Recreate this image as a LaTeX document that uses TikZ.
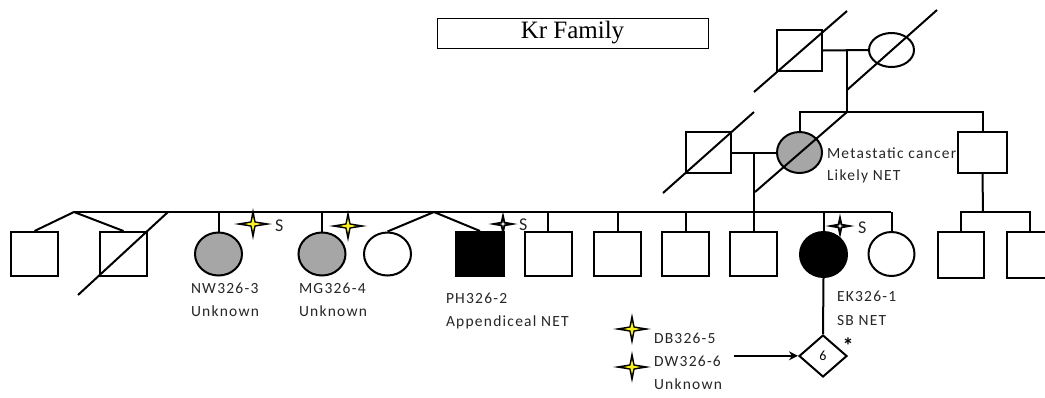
\documentclass[tikz,border=0pt]{standalone}
\usepackage{fontspec}
\newfontfamily\lblfont[LetterSpace=8]{Carlito}
\newfontfamily\titlefont{Liberation Serif}
\usetikzlibrary{shapes.geometric,arrows.meta,calc}
\definecolor{partgray}{RGB}{166,166,166}
\definecolor{staryellow}{RGB}{250,240,30}
\begin{document}
\begin{tikzpicture}[x=1pt,y=-1pt,line width=2pt,
  sq/.style={draw,rectangle,minimum width=47pt,minimum height=44pt,inner sep=0pt,fill=white},
  fem/.style={draw,ellipse,minimum width=47pt,minimum height=43pt,inner sep=0pt,fill=white},
  grayfill/.style={fill=partgray},
  blackfill/.style={fill=black},
  lbl/.style={font=\lblfont\fontsize{15.5}{18}\selectfont,text=black!85,anchor=base west,inner sep=0pt},
  slbl/.style={lbl,font=\lblfont\fontsize{18}{20}\selectfont},
  dline/.style={line width=2pt},
  ystar/.pic={
    \fill[black] (19,0) -- (2.6,2.6) -- (0,16) -- (-2.6,2.6) -- (-19,0) -- (-2.6,-2.6) -- (0,-16) -- (2.6,-2.6) -- cycle;
    \fill[staryellow] (8.5,0) -- (1.4,1.4) -- (0,7.5) -- (-1.4,1.4) -- (-8.5,0) -- (-1.4,-1.4) -- (0,-7.5) -- (1.4,-1.4) -- cycle;
  },
  bstar/.pic={
    \fill[black] (14.5,0) -- (2.2,2.2) -- (0,12.5) -- (-2.2,2.2) -- (-14.5,0) -- (-2.2,-2.2) -- (0,-12.5) -- (2.2,-2.2) -- cycle;
    \fill[white] (3,0) -- (0.6,0.6) -- (0,3) -- (-0.6,0.6) -- (-3,0) -- (-0.6,-0.6) -- (0,-3) -- (0.6,-0.6) -- cycle;
  }
]
\useasboundingbox (0,0) rectangle (1045,397);
\fill[white] (0,0) rectangle (1045,397);
\clip (0,0) rectangle (1045,397);

% title
\node[draw,line width=1pt,minimum width=271pt,minimum height=30pt,inner sep=0pt,
      font=\titlefont\fontsize{25}{28}\selectfont] (title) at (572.5,33) {Kr Family};

% coordinates for lines of descent
\coordinate (s1) at (847,112);
\coordinate (d2) at (754,212);
\coordinate (sL) at (74,212);
\coordinate (sR) at (891,212);
\coordinate (tw2) at (434,212);
\coordinate (s3) at (983,212);

% generation I
\node[sq,minimum width=45pt,minimum height=41pt] (g1m) at (799.5,50.5) {};
\node[fem,minimum width=45pt,minimum height=34pt] (g1f) at (891.5,50) {};
\draw (g1m.east) -- (g1f.west);
\draw (s1 |- g1m.east) -- (s1);

% generation II
\node[sq,minimum width=45pt,minimum height=41pt] (g2h) at (708.5,152.5) {};
\node[fem,grayfill,minimum width=45pt,minimum height=41pt] (g2f) at (799.5,152.5) {};
\node[sq,minimum width=49pt,minimum height=41pt] (g2b) at (982.5,152.5) {};
\draw (g2f.north) -- (g2f.north |- s1) -- (g2b.north |- s1) -- (g2b.north);
\draw (g2h.east) -- (g2f.west);
\draw (d2 |- g2h.east) -- (d2);
\draw (g2b.south) -- (s3);

% generation III
\node[sq] (c1) at (34.5,254) {};
\node[sq] (c2) at (123.5,254) {};
\node[fem,grayfill] (c3) at (218.5,254) {};
\node[fem,grayfill] (c4) at (322,254) {};
\node[fem] (c5) at (387.5,254) {};
\node[sq,blackfill,minimum width=48pt] (c6) at (480,254) {};
\node[sq] (c7) at (548,254) {};
\node[sq] (c8) at (617.5,254) {};
\node[sq] (c9) at (685.5,254) {};
\node[sq] (c10) at (753.5,254) {};
\node[fem,blackfill,minimum height=45pt] (c11) at (823.5,254.5) {};
\node[fem,minimum width=46pt,minimum height=44pt] (c12) at (891.5,254) {};
\node[sq,minimum width=46pt,minimum height=46pt] (r1) at (961,255) {};
\node[sq,minimum width=46pt,minimum height=46pt] (r2) at (1030,255) {};

\draw (sL) -- (sR);
\draw (c1.north) -- (sL) -- (c2.north);
\draw (c5.north) -- (tw2) -- (c6.north);
\foreach \n in {c3,c4,c7,c8,c9,c10,c11,c12}{
  \draw (\n.north) -- (\n.north |- sL);
}
\draw (r1.north) -- (r1.north |- s3) -- (r2.north |- s3) -- (r2.north);

% generation IV
\node[draw,diamond,minimum width=48pt,minimum height=42pt,inner sep=0pt,fill=white,
      font=\lblfont\fontsize{14}{14}\selectfont] (kid) at (823,356) {6};
\draw (c11.south) -- (kid.north);
\node[font=\lblfont\bfseries\fontsize{22}{22}\selectfont,inner sep=0pt,anchor=center] (ast) at (848,346) {*};

% deceased slashes
\draw[dline] ([shift={(-45.5,41.5)}]g1m.center) -- ([shift={(47.5,-39.5)}]g1m.center);
\draw[dline] ([shift={(-44.5,40)}]g1f.center) -- ([shift={(45.5,-40)}]g1f.center);
\draw[dline] ([shift={(-45.5,40.5)}]g2h.center) -- ([shift={(45.5,-40.5)}]g2h.center);
\draw[dline] ([shift={(-44.5,39.5)}]g2f.center) -- ([shift={(47.5,-40.5)}]g2f.center);
\draw[dline] ([shift={(-45.5,41)}]c2.center) -- ([shift={(44.5,-42)}]c2.center);

% stars
\pic at (253,224) {ystar};
\pic at (348,226) {ystar};
\pic at (503,224) {bstar};
\pic at (840,226) {bstar};
\pic at (632,329) {ystar};
\pic at (632,367) {ystar};
\node[slbl] (s-nw) at (274,231) {S};
\node[slbl] (s-ph) at (518,230) {S};
\node[slbl] (s-ek) at (857,233) {S};

% labels
\node[lbl] (l-met1) at (826,158) {Metastatic cancer};
\node[lbl] (l-met2) at (826,180) {Likely NET};
\node[lbl] (l-nw1) at (190,293) {NW326-3};
\node[lbl] (l-nw2) at (190,316) {Unknown};
\node[lbl] (l-mg1) at (298,293) {MG326-4};
\node[lbl] (l-mg2) at (298,316) {Unknown};
\node[lbl] (l-ph1) at (445,303) {PH326-2};
\node[lbl] (l-ph2) at (445,326) {Appendiceal NET};
\node[lbl] (l-ek1) at (836,301) {EK326-1};
\node[lbl] (l-ek2) at (836,325) {SB NET};
\node[lbl] (l-db) at (653,343) {DB326-5};
\node[lbl] (l-dw) at (653,366) {DW326-6};
\node[lbl] (l-unk) at (653,389) {Unknown};

\draw[-{Stealth[length=9pt,width=9pt]}] (l-dw.east) ++(12,-5) coordinate (arrs) -- (kid.west |- arrs);
\end{tikzpicture}
\end{document}
